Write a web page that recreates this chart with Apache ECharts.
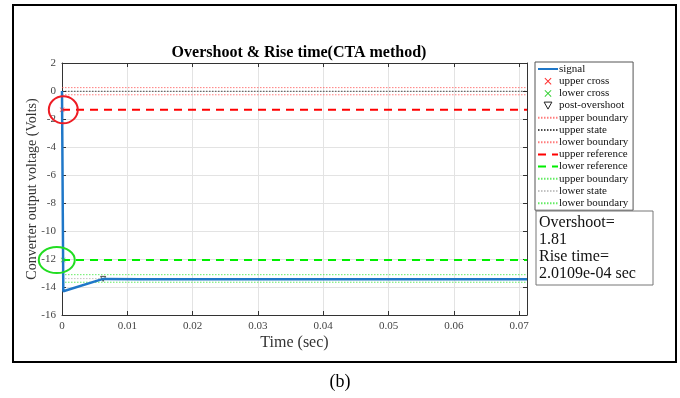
<!DOCTYPE html>
<html>
<head>
<meta charset="utf-8">
<script src="https://cdn.jsdelivr.net/npm/echarts@6/dist/echarts.min.js"></script>
<style>
  html, body { margin: 0; padding: 0; background: #fff; }
  #chart { width: 680px; height: 398px; }
</style>
</head>
<body>
<div id="chart"></div>
<script>
// Converter step response: state levels, references and crossings
var xTicks = ['0', '0.01', '0.02', '0.03', '0.04', '0.05', '0.06', '0.07'];
var yTicks = ['2', '0', '-2', '-4', '-6', '-8', '-10', '-12', '-14', '-16'];
var tEnd = 0.0712;

// output voltage samples [time, volts]
var signalT = [0, 0.0002, 0.0063, 0.012, 0.02, 0.03, 0.04, 0.05, 0.06, 0.0712];
var signalV = [0, -14.3, -13.42, -13.45, -13.44, -13.45, -13.44, -13.45, -13.44, -13.45];

// state levels and their tolerance bounds
var upperState = -0.02;
var upperBoundHi = 0.24;
var upperBoundLo = -0.27;
var upperReference = -1.345;
var lowerReference = -12.08;
var upperBound2 = -13.12;
var lowerState = -13.40;
var lowerBound2 = -13.66;

// crossing markers
var upperCross = [[0.00002, -1.345]];
var lowerCross = [[0.00018, -12.08]];
var postOvershoot = [[0.0063, -13.42]];

var overshootText = ['Overshoot=', '1.81', 'Rise time=', '2.0109e-04 sec'];

var serif = '"Liberation Serif", "DejaVu Serif", serif';

function hline(v) { return [[0, v], [tEnd, v]]; }
function lineSeries(name, data, color, width, type, z) {
  return {
    name: name, type: 'line', data: data, symbol: 'none', silent: true,
    lineStyle: { color: color, width: width, type: type },
    itemStyle: { color: color },
    z: z || 2, animation: false
  };
}

var signalData = signalT.map(function (t, i) { return [t, signalV[i]]; });

var crossPath = 'path://M0,1L1,0L5,4L9,0L10,1L6,5L10,9L9,10L5,6L1,10L0,9L4,5Z';
var triPath = 'path://M0,0L10,0L5,9Z';

function lineItem(name) { return { name: name, itemStyle: { opacity: 0 } }; }
function markItem(name, style) { return { name: name, itemStyle: style || { opacity: 1 } }; }

function frameAxis(extra) {
  var a = {
    type: 'value',
    axisLine: { show: true, onZero: false, lineStyle: { color: '#333', width: 1 } },
    axisTick: { show: true, inside: true, length: 4, lineStyle: { color: '#333' } },
    axisLabel: { show: false }, splitLine: { show: false }
  };
  for (var k in extra) a[k] = extra[k];
  return a;
}

var chart = echarts.init(document.getElementById('chart'), null, { renderer: 'canvas' });

var option = {
  animation: false,
  backgroundColor: '#fff',
  title: {
    text: 'Overshoot & Rise time(CTA method)',
    left: 294, top: 40, textAlign: 'center',
    textStyle: { fontFamily: serif, fontSize: 16, fontWeight: 'bold', color: '#000' }
  },
  grid: { left: 62, right: 153, top: 63, bottom: 83, containLabel: false },
  legend: {
    orient: 'vertical',
    left: 535, top: 62,
    padding: [1, 2, 1, 2],
    itemWidth: 20, itemHeight: 7, itemGap: 0.2,
    backgroundColor: '#fff',
    borderColor: '#555', borderWidth: 1,
    textStyle: { fontFamily: serif, fontSize: 11, color: '#111', lineHeight: 12, padding: [0, 0, 0, -4] },
    selectedMode: false,
    data: [lineItem('signal'), markItem('upper cross'), markItem('lower cross'),
      markItem('post-overshoot', { opacity: 1, color: '#fff', borderColor: '#222', borderWidth: 1 }),
      lineItem('upper boundary'), lineItem('upper state'), lineItem('lower boundary'),
      lineItem('upper reference'), lineItem('lower reference'), lineItem('upper boundary '),
      lineItem('lower state'), lineItem('lower boundary ')]
  },
  xAxis: [frameAxis({
    min: 0, max: tEnd, interval: 0.01, position: 'bottom',
    name: 'Time (sec)', nameLocation: 'middle', nameGap: 20, nameMoveOverlap: false,
    nameTextStyle: { fontFamily: serif, fontSize: 16, color: '#333' },
    axisLabel: {
      show: true, fontFamily: serif, fontSize: 11, color: '#444', margin: 6, showMaxLabel: false,
      formatter: function (v) { var i = Math.round(v / 0.01); return Math.abs(v - i * 0.01) < 1e-9 ? xTicks[i] : ''; }
    },
    splitLine: { show: true, lineStyle: { color: '#e3e3e3', width: 1 } }
  }), frameAxis({ min: 0, max: tEnd, interval: 0.01, position: 'top' })],
  yAxis: [frameAxis({
    min: -16, max: 2, interval: 2, position: 'left',
    name: 'Converter output voltage (Volts)', nameLocation: 'middle', nameGap: 23, nameMoveOverlap: false,
    nameTextStyle: { fontFamily: serif, fontSize: 14, color: '#333' },
    axisLabel: {
      show: true, fontFamily: serif, fontSize: 11, color: '#444', margin: 6,
      formatter: function (v) { return yTicks[Math.round((2 - v) / 2)]; }
    },
    splitLine: { show: true, lineStyle: { color: '#e3e3e3', width: 1 } }
  }), frameAxis({ min: -16, max: 2, interval: 2, position: 'right' })],
  series: [
    lineSeries('signal', signalData, '#1f77c8', 2.5, 'solid', 5),
    {
      name: 'upper cross', type: 'scatter', data: upperCross, symbol: crossPath, symbolSize: 5,
      itemStyle: { color: '#ff3030' }, z: 6
    },
    {
      name: 'lower cross', type: 'scatter', data: lowerCross, symbol: crossPath, symbolSize: 5,
      itemStyle: { color: '#30d030' }, z: 6
    },
    {
      name: 'post-overshoot', type: 'scatter', data: postOvershoot, symbol: triPath, symbolSize: 5,
      itemStyle: { color: '#fff', borderColor: '#222', borderWidth: 1 }, z: 4
    },
    lineSeries('upper boundary', hline(upperBoundHi), 'rgba(255,80,80,0.75)', 1, [1.5, 1.5], 3),
    lineSeries('upper state', hline(upperState), 'rgba(30,30,30,0.8)', 1, [1.5, 1.5], 3),
    lineSeries('lower boundary', hline(upperBoundLo), 'rgba(255,80,80,0.75)', 1, [1.5, 1.5], 3),
    lineSeries('upper reference', hline(upperReference), '#ff0000', 2, [8, 6], 4),
    lineSeries('lower reference', hline(lowerReference), '#00ee00', 2, [8, 6], 4),
    lineSeries('upper boundary ', hline(upperBound2), 'rgba(60,230,60,0.8)', 1, [1.5, 1.5], 3),
    lineSeries('lower state', hline(lowerState), 'rgba(170,170,170,0.7)', 1, [1.5, 1.5], 3),
    lineSeries('lower boundary ', hline(lowerBound2), 'rgba(60,230,60,0.8)', 1, [1.5, 1.5], 3)
  ]
};
chart.setOption(option);

// highlight circles at the reference crossings, plus frame and result box
var pUp = chart.convertToPixel({ xAxisIndex: 0, yAxisIndex: 0 }, [0.0002, upperReference]);
var pLo = chart.convertToPixel({ xAxisIndex: 0, yAxisIndex: 0 }, [-0.0008, lowerReference]);

chart.setOption({
  graphic: [
    {
      type: 'ellipse', shape: { cx: pUp[0], cy: pUp[1], rx: 14.5, ry: 13.5 },
      style: { fill: 'none', stroke: '#ee1c24', lineWidth: 2 }, z: 100
    },
    {
      type: 'ellipse', shape: { cx: pLo[0], cy: pLo[1], rx: 18, ry: 13 },
      style: { fill: 'none', stroke: '#22dd22', lineWidth: 2 }, z: 100
    },
    {
      type: 'rect', shape: { x: 536, y: 211, width: 117, height: 74 },
      style: { fill: '#fff', stroke: '#777', lineWidth: 1 }, z: 100
    },
    {
      type: 'text', left: 539, top: 214, z: 101,
      style: {
        text: overshootText.join('\n'), fontFamily: serif, fontSize: 16, lineHeight: 17, fill: '#111'
      }
    },
    {
      type: 'rect', shape: { x: 13, y: 5, width: 663, height: 357 },
      style: { fill: 'none', stroke: '#000', lineWidth: 2 }, z: 100
    },
    {
      type: 'text', x: 340, y: 382, z: 101,
      style: { text: '(b)', fontFamily: serif, fontSize: 18, fill: '#000', align: 'center', verticalAlign: 'middle' }
    }
  ]
});
</script>
</body>
</html>
